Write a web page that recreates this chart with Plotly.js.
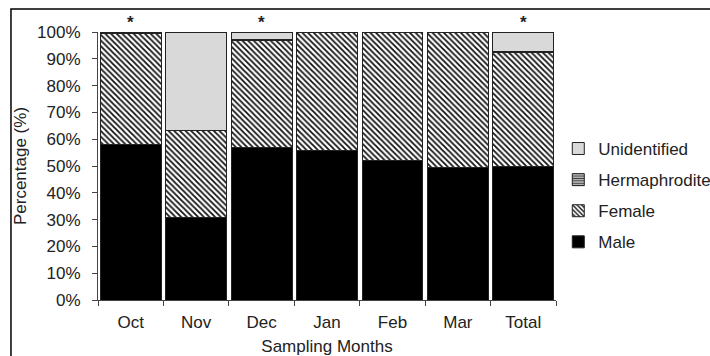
<!DOCTYPE html>
<html>
<head>
<meta charset="utf-8">
<script src="https://cdn.plot.ly/plotly-3.0.1.min.js"></script>
<style>
html,body{margin:0;padding:0;background:#fff;}
#chart{width:710px;height:356px;}
</style>
</head>
<body>
<div id="chart"></div>
<script>
const months = ["Oct", "Nov", "Dec", "Jan", "Feb", "Mar", "Total"];
const male = [0.579, 0.307, 0.568, 0.557, 0.520, 0.495, 0.497];
const female = [0.416, 0.324, 0.400, 0.443, 0.480, 0.505, 0.426];
const hermaphrodite = [0.005, 0.0, 0.004, 0.0, 0.0, 0.0, 0.003];
const unidentified = [0.0, 0.369, 0.028, 0.0, 0.0, 0.0, 0.074];
const starred = ["Oct", "Dec", "Total"];

const FONT = "Liberation Sans, Arial, sans-serif";
const lineStyle = {color: "#222", width: 1};

const traces = [
  {name: "Male", y: male, legendrank: 4, marker: {color: "#000", line: lineStyle}},
  {name: "Female", y: female, legendrank: 3, marker: {color: "#fff", line: lineStyle,
     pattern: {shape: "\\", fgcolor: "#111", bgcolor: "#fff", size: 4, solidity: 0.45}}},
  {name: "Hermaphrodite", y: hermaphrodite, legendrank: 2, marker: {color: "#fff", line: lineStyle,
     pattern: {shape: "-", fgcolor: "#333", bgcolor: "#ddd", size: 3, solidity: 0.5}}},
  {name: "Unidentified", y: unidentified, legendrank: 1, marker: {color: "#d9d9d9", line: lineStyle}}
].map((t, i) => Object.assign({type: "bar", x: months, legendgroup: "g" + i, hoverinfo: "skip"}, t));

const layout = {
  width: 710, height: 356,
  margin: {l: 98, r: 154, t: 32, b: 56, autoexpand: false},
  paper_bgcolor: "#fff", plot_bgcolor: "#fff",
  barmode: "stack", bargap: 0.07,
  font: {family: FONT, size: 17, color: "#222"},
  showlegend: true,
  legend: {
    x: 1.005, xanchor: "left", xref: "paper",
    y: 0.39, yanchor: "middle",
    traceorder: "grouped", tracegroupgap: 6,
    font: {family: FONT, size: 17, color: "#222"},
    bgcolor: "rgba(0,0,0,0)"
  },
  xaxis: {
    type: "category", tickson: "boundaries", ticks: "outside", ticklen: 5,
    tickcolor: "#444", showline: true, linecolor: "#444", linewidth: 1,
    showgrid: false, zeroline: false, ticklabelstandoff: 7,
    tickfont: {family: FONT, size: 17, color: "#222"},
    title: {text: "Sampling Months", font: {family: FONT, size: 17, color: "#222"}, standoff: 9}
  },
  yaxis: {
    range: [0, 1], dtick: 0.1, tickformat: ".0%", ticks: "outside", ticklen: 5,
    tickcolor: "#444", showline: true, linecolor: "#444", linewidth: 1,
    showgrid: false, zeroline: false, ticklabelstandoff: 8,
    tickfont: {family: FONT, size: 17, color: "#222"},
    title: {text: "Percentage (%)", font: {family: FONT, size: 17, color: "#222"}, standoff: 6}
  },
  annotations: starred.map(m => ({
    x: m, xref: "x", y: 1.035, yref: "paper", text: "<b>*</b>", showarrow: false,
    font: {family: FONT, size: 17, color: "#222"}, yanchor: "middle"
  })),
  shapes: [{
    type: "rect", xref: "paper", yref: "paper",
    x0: -0.19, x1: 1.6, y0: -0.5, y1: 1.0858,
    line: {color: "#000", width: 1.5}, fillcolor: "rgba(0,0,0,0)", layer: "below"
  }]
};

Plotly.newPlot("chart", traces, layout, {staticPlot: true, displayModeBar: false});
</script>
</body>
</html>
